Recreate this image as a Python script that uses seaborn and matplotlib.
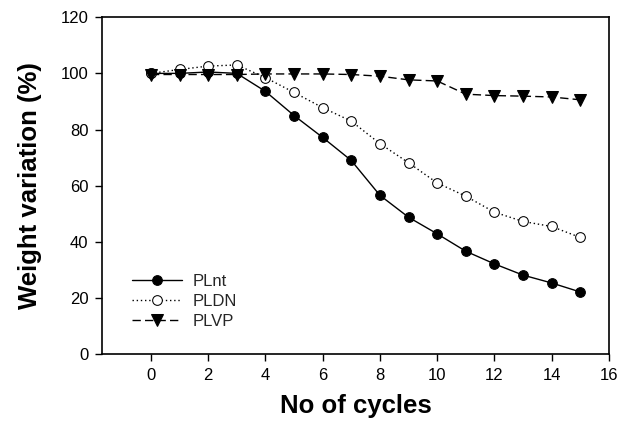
import numpy as np
import pandas as pd
import matplotlib
matplotlib.use("Agg")
import matplotlib.pyplot as plt
import seaborn as sns

# ==========================================
# Data
# ==========================================
cycles = list(range(0, 16))
plnt = [100, 100, 100.5, 100, 93.6, 85, 77.2, 69, 56.6, 48.8, 42.9, 36.7, 32.2, 28.2, 25.4, 22.2]
pldn = [100, 101.4, 102.6, 103, 98.5, 93.2, 87.8, 83, 75, 68.2, 61, 56.3, 50.6, 47.3, 45.5, 41.6]
plvp = [99.6, 99.6, 99.6, 99.6, 99.8, 99.8, 99.8, 99.6, 99, 97.7, 97.3, 92.6, 92.1, 91.9, 91.6, 90.6]

sns.set_style("ticks")
plt.rcParams['font.family'] = ['Liberation Sans', 'DejaVu Sans']

fig, ax = plt.subplots(figsize=(6.2, 4.3), dpi=100)
fig.subplots_adjust(left=0.165, right=0.982, top=0.96, bottom=0.176)

sns.lineplot(x=cycles, y=plnt, ax=ax, color='black', linewidth=1.0, linestyle='-',
             marker='o', markersize=7, markerfacecolor='black', markeredgecolor='black',
             label='PLnt')
sns.lineplot(x=cycles, y=pldn, ax=ax, color='black', linewidth=1.0, linestyle=(0, (1, 2)),
             marker='o', markersize=7, markerfacecolor='white', markeredgecolor='black',
             label='PLDN')
sns.lineplot(x=cycles, y=plvp, ax=ax, color='black', linewidth=1.0, linestyle=(0, (6, 3)),
             marker='v', markersize=8, markerfacecolor='black', markeredgecolor='black',
             label='PLVP')

ax.set_xlim(-1.7, 16)
ax.set_ylim(0, 120)
ax.set_xticks(range(0, 17, 2))
ax.set_yticks(range(0, 121, 20))
ax.tick_params(direction='out', length=5, width=1, labelsize=12, colors='black', pad=5)
for s in ax.spines.values():
    s.set_linewidth(1.2)
    s.set_color('black')

ax.set_xlabel('No of cycles', fontsize=18.5, fontweight='bold', labelpad=8, color='black')
ax.set_ylabel('Weight variation (%)', fontsize=18.5, fontweight='bold', labelpad=13, color='black')

ax.legend(loc='lower left', bbox_to_anchor=(0.03, 0.03), frameon=False, fontsize=12,
          handlelength=3, labelspacing=0.3, handletextpad=0.6)

plt.savefig('out.png', dpi=100)
